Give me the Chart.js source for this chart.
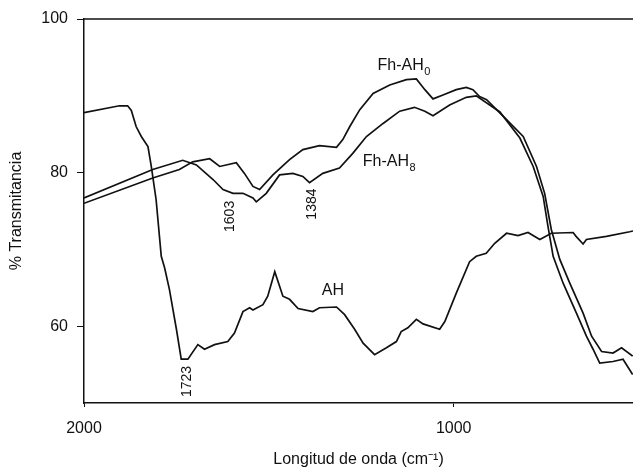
<!DOCTYPE html>
<html>
<head>
<meta charset="utf-8">
<script src="https://cdn.jsdelivr.net/npm/chart.js@4"></script>
<style>
  html, body { margin: 0; padding: 0; background: #fff; }
  #wrap { width: 633px; height: 468px; position: relative; }
</style>
</head>
<body>
<div id="wrap"><canvas id="irChart"></canvas></div>
<script>
// wavenumber (cm-1) and % transmittance
const ahX = [2000, 1904, 1882, 1872, 1859, 1845, 1827, 1818, 1805, 1791, 1782, 1769, 1750, 1737, 1719, 1692, 1674, 1647, 1611, 1593, 1570, 1552, 1543, 1516, 1503, 1484, 1462, 1444, 1421, 1381, 1363, 1317, 1295, 1268, 1245, 1214, 1182, 1155, 1142, 1124, 1101, 1083, 1038, 1024, 993, 957, 939, 912, 889, 857, 826, 799, 767, 736, 677, 669, 650, 641, 587, 524, 515];
const ahY = [87.8, 88.7, 88.7, 88.1, 86.0, 84.7, 83.4, 80.8, 76.5, 69.1, 67.6, 64.8, 59.6, 55.7, 55.7, 57.6, 57.0, 57.6, 58.0, 59.1, 61.9, 62.4, 62.1, 62.8, 63.9, 67.1, 63.9, 63.5, 62.3, 61.9, 62.4, 62.5, 61.5, 59.6, 57.8, 56.3, 57.2, 58.0, 59.3, 59.8, 60.9, 60.3, 59.6, 60.6, 64.3, 68.4, 69.1, 69.5, 70.8, 72.1, 71.8, 72.2, 71.3, 72.1, 72.2, 71.7, 70.7, 71.3, 71.7, 72.3, 72.4];

const fh8X = [2000, 1814, 1733, 1696, 1651, 1624, 1597, 1570, 1543, 1534, 1507, 1471, 1435, 1408, 1390, 1354, 1309, 1273, 1236, 1191, 1146, 1106, 1078, 1056, 1011, 966, 939, 875, 821, 785, 758, 745, 731, 704, 668, 641, 623, 605, 569, 542, 516];
const fh8Y = [76.7, 80.4, 81.6, 81.0, 79.1, 77.8, 77.3, 77.3, 76.7, 76.2, 77.3, 79.7, 79.9, 79.5, 78.7, 79.9, 80.6, 82.5, 84.7, 86.4, 88.0, 88.5, 88.0, 87.4, 88.8, 89.8, 90.0, 87.9, 84.5, 80.8, 76.9, 73.0, 69.1, 65.6, 61.7, 58.7, 57.0, 55.2, 55.4, 55.7, 53.7];

const fh0X = [2000, 1814, 1742, 1706, 1660, 1633, 1588, 1566, 1543, 1525, 1489, 1444, 1408, 1363, 1317, 1300, 1281, 1254, 1218, 1173, 1128, 1101, 1078, 1056, 1029, 993, 966, 948, 930, 911, 857, 812, 776, 754, 736, 713, 686, 650, 627, 600, 569, 546, 516];
const fh0Y = [76.0, 79.3, 80.4, 81.4, 81.8, 80.8, 81.3, 79.9, 78.2, 77.8, 79.7, 81.7, 83.0, 83.5, 83.3, 84.3, 86.0, 88.2, 90.3, 91.4, 92.1, 92.2, 90.8, 89.6, 90.1, 90.8, 91.1, 90.8, 89.9, 89.5, 86.9, 84.7, 80.8, 77.3, 72.6, 68.7, 65.6, 61.7, 58.7, 56.7, 56.5, 57.2, 56.1];

const xTicks = [2000, 1000];
const yTicks = [60, 80, 100];

// curve names and band positions, anchored in data units
const curveLabels = [
  { text: 'Fh-AH', sub: '0', x: 1206, y: 93.4 },
  { text: 'Fh-AH', sub: '8', x: 1246, y: 80.9 },
  { text: 'AH', sub: '', x: 1357, y: 64.1 }
];
const bandLabels = [
  { text: '1723', x: 1720, y: 52.8 },
  { text: '1603', x: 1606, y: 74.3 },
  { text: '1384', x: 1384, y: 75.9 }
];

const FONT = '"Liberation Sans", Arial, sans-serif';
const INK = '#111';
Chart.defaults.font.family = FONT;
Chart.defaults.color = INK;

const toPoints = (xs, ys) => xs.map((x, i) => ({ x: x, y: ys[i] }));

const spectrumText = {
  id: 'spectrumText',
  afterDatasetsDraw(chart) {
    const { ctx, chartArea, scales } = chart;
    const xs = scales.x, ys = scales.y;
    ctx.save();
    // top frame line
    ctx.strokeStyle = INK;
    ctx.lineWidth = 1.5;
    ctx.beginPath();
    ctx.moveTo(chartArea.left, chartArea.top);
    ctx.lineTo(chartArea.right, chartArea.top);
    ctx.stroke();

    ctx.fillStyle = INK;
    ctx.textAlign = 'left';
    ctx.textBaseline = 'alphabetic';
    curveLabels.forEach(l => {
      const px = xs.getPixelForValue(l.x);
      const py = ys.getPixelForValue(l.y);
      ctx.font = '16px ' + FONT;
      ctx.fillText(l.text, px, py);
      if (l.sub) {
        const w = ctx.measureText(l.text).width;
        ctx.font = '11px ' + FONT;
        ctx.fillText(l.sub, px + w + 0.5, py + 5);
      }
    });

    bandLabels.forEach(l => {
      ctx.save();
      ctx.translate(xs.getPixelForValue(l.x), ys.getPixelForValue(l.y));
      ctx.rotate(-Math.PI / 2);
      ctx.font = '14px ' + FONT;
      ctx.textAlign = 'center';
      ctx.textBaseline = 'middle';
      ctx.fillText(l.text, 0, 0);
      ctx.restore();
    });
    ctx.restore();
  }
};

const lineStyle = {
  borderColor: INK,
  borderWidth: 1.7,
  pointRadius: 0,
  fill: false,
  tension: 0
};

new Chart(document.getElementById('irChart'), {
  type: 'line',
  data: {
    datasets: [
      Object.assign({ label: 'AH', data: toPoints(ahX, ahY) }, lineStyle),
      Object.assign({ label: 'Fh-AH8', data: toPoints(fh8X, fh8Y) }, lineStyle),
      Object.assign({ label: 'Fh-AH0', data: toPoints(fh0X, fh0Y) }, lineStyle)
    ]
  },
  options: {
    responsive: true,
    maintainAspectRatio: false,
    animation: false,
    layout: { padding: { top: 19, right: 0, bottom: 0, left: 0 } },
    plugins: {
      legend: { display: false },
      tooltip: { enabled: false }
    },
    scales: {
      x: {
        type: 'linear',
        reverse: true,
        min: 515,
        max: 2000,
        afterBuildTicks: s => { s.ticks = xTicks.map(v => ({ value: v })); },
        afterFit: s => { s.height = 65; },
        grid: { drawOnChartArea: false, drawTicks: true, tickLength: 4, color: INK },
        border: { display: true, color: INK, width: 1.5 },
        ticks: { color: INK, font: { size: 16 }, padding: 12, maxRotation: 0, autoSkip: false, callback: v => String(v) },
        title: { display: true, text: 'Longitud de onda (cm⁻¹)', color: INK, font: { size: 16 }, padding: { top: 0, bottom: -1 } }
      },
      y: {
        min: 50,
        max: 100,
        afterBuildTicks: s => { s.ticks = yTicks.map(v => ({ value: v })); },
        afterFit: s => { s.width = 84; },
        grid: { drawOnChartArea: false, drawTicks: true, tickLength: 7, color: INK },
        border: { display: true, color: INK, width: 1.5 },
        ticks: { color: INK, font: { size: 16 }, padding: 9, callback: v => String(v) },
        title: { display: true, text: '% Transmitancia', color: INK, font: { size: 16 }, padding: { top: 7, bottom: 0 } }
      }
    }
  },
  plugins: [spectrumText]
});
</script>
</body>
</html>
